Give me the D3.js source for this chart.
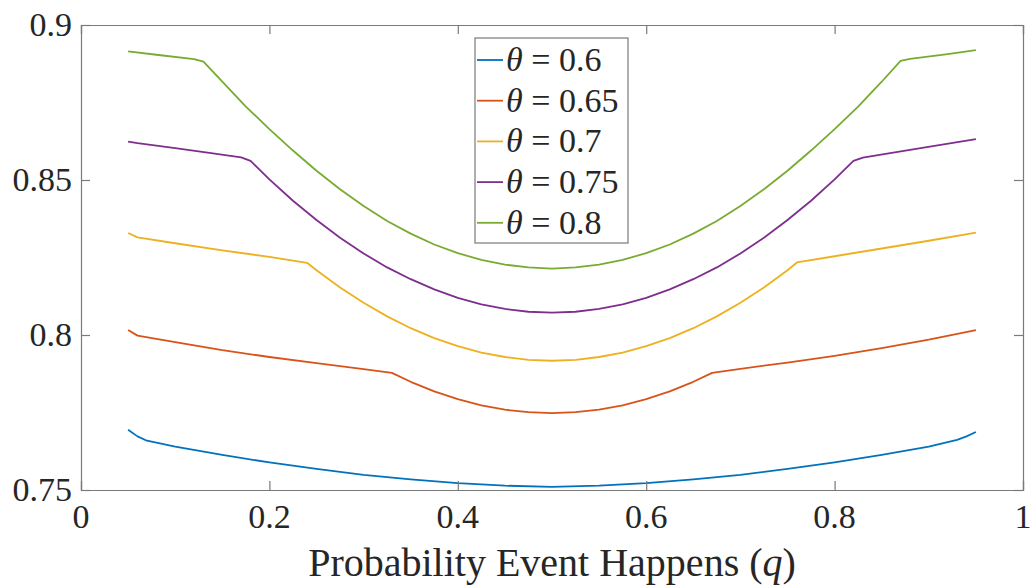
<!DOCTYPE html>
<html>
<head>
<meta charset="utf-8">
<script src="https://cdn.jsdelivr.net/npm/d3@7/dist/d3.min.js"></script>
</head>
<body style="margin:0">
<svg id="chart" width="1034" height="587"></svg>
<script>
// ---- data ----
const seriesLabels = ["0.6", "0.65", "0.7", "0.75", "0.8"];
const seriesColors = ["#0072BD", "#D95319", "#EDB120", "#7E2F8E", "#77AC30"];

const qBlue = [0.05,0.06,0.07,0.10,0.15,0.20,0.25,0.30,0.35,0.40,0.45,0.50,0.55,0.60,0.65,0.70,0.75,0.80,0.85,0.90,0.93,0.94,0.95];
const vBlue = [0.7694,0.7673,0.7659,0.7640,0.7613,0.7589,0.7568,0.7549,0.7534,0.7522,0.7514,0.7510,0.7514,0.7522,0.7534,0.7549,0.7568,0.7589,0.7613,0.7640,0.7662,0.7673,0.7687];

const qOrange = [0.05,0.06,0.10,0.15,0.20,0.25,0.30,0.33,0.35,0.375,0.40,0.425,0.45,0.475,0.50,0.525,0.55,0.575,0.60,0.625,0.65,0.67,0.70,0.75,0.80,0.85,0.90,0.95];
const vOrange = [0.8016,0.7998,0.7977,0.7951,0.7929,0.7909,0.7890,0.7878,0.7849,0.7818,0.7793,0.7773,0.7759,0.7751,0.7748,0.7751,0.7759,0.7773,0.7793,0.7818,0.7849,0.7878,0.7891,0.7911,0.7933,0.7958,0.7985,0.8016];

const qYellow = [0.05,0.06,0.10,0.15,0.20,0.24,0.25,0.275,0.30,0.325,0.35,0.375,0.40,0.425,0.45,0.475,0.50,0.525,0.55,0.575,0.60,0.625,0.65,0.675,0.70,0.725,0.75,0.76,0.80,0.85,0.90,0.95];
const vYellow = [0.8329,0.8315,0.8296,0.8273,0.8252,0.8233,0.8209,0.8153,0.8104,0.8060,0.8022,0.7990,0.7964,0.7943,0.7929,0.7920,0.7917,0.7920,0.7929,0.7943,0.7964,0.7990,0.8022,0.8060,0.8104,0.8153,0.8209,0.8234,0.8254,0.8279,0.8304,0.8330];

const qPurple = [0.05,0.06,0.10,0.14,0.17,0.18,0.20,0.225,0.25,0.275,0.30,0.325,0.35,0.375,0.40,0.425,0.45,0.475,0.50,0.525,0.55,0.575,0.60,0.625,0.65,0.675,0.70,0.725,0.75,0.775,0.80,0.82,0.83,0.88,0.95];
const vPurple = [0.8624,0.8619,0.8603,0.8586,0.8573,0.8562,0.8502,0.8433,0.8371,0.8314,0.8263,0.8218,0.8180,0.8147,0.8120,0.8099,0.8084,0.8075,0.8072,0.8075,0.8084,0.8099,0.8120,0.8147,0.8180,0.8218,0.8263,0.8314,0.8371,0.8433,0.8502,0.8562,0.8572,0.8597,0.8632];

const qGreen = [0.05,0.08,0.12,0.13,0.15,0.175,0.20,0.225,0.25,0.275,0.30,0.325,0.35,0.375,0.40,0.425,0.45,0.475,0.50,0.525,0.55,0.575,0.60,0.625,0.65,0.675,0.70,0.725,0.75,0.775,0.80,0.825,0.85,0.87,0.88,0.92,0.95];
const vGreen = [0.8915,0.8904,0.8890,0.8882,0.8817,0.8737,0.8664,0.8595,0.8530,0.8470,0.8416,0.8368,0.8327,0.8292,0.8264,0.8242,0.8227,0.8218,0.8214,0.8218,0.8227,0.8242,0.8264,0.8292,0.8327,0.8368,0.8416,0.8470,0.8530,0.8595,0.8664,0.8737,0.8817,0.8884,0.8891,0.8906,0.8919];

const xTicks = [0, 0.2, 0.4, 0.6, 0.8, 1];
const xTickLabels = ["0", "0.2", "0.4", "0.6", "0.8", "1"];
const yTicks = [0.75, 0.8, 0.85, 0.9];
const yTickLabels = ["0.75", "0.8", "0.85", "0.9"];
const xLabelText = "Probability Event Happens (";
const xLabelVar = "q";

// ---- layout ----
const FONT = '"Liberation Serif", "Times New Roman", serif';
function setFont(sel, size) {
  sel.attr("font-family", FONT).attr("font-size", size)
     .style("font-family", FONT, "important").style("font-size", size + "px", "important");
  return sel;
}
const L = 81, R = 1023, T = 25, B = 490;
const svg = d3.select("#chart");
const x = d3.scaleLinear().domain([0, 1]).range([L, R]);
const y = d3.scaleLinear().domain([0.75, 0.9]).range([B, T]);

const allSeries = [
  {q: qBlue, v: vBlue},
  {q: qOrange, v: vOrange},
  {q: qYellow, v: vYellow},
  {q: qPurple, v: vPurple},
  {q: qGreen, v: vGreen}
];

const axisColor = "#7a7a7a";
const textColor = "#262626";
const tickLen = 9;

// lines
const line = d3.line().x(d => x(d[0])).y(d => y(d[1])).curve(d3.curveLinear);
allSeries.forEach((s, i) => {
  const pts = s.q.map((q, j) => [q, s.v[j]]);
  svg.append("path").attr("d", line(pts)).attr("fill", "none")
    .attr("stroke", seriesColors[i]).attr("stroke-width", 1.8)
    .attr("stroke-linejoin", "round");
});

// axes (lines + inward ticks)
const gxb = svg.append("g").attr("transform", `translate(0,${B})`)
  .call(d3.axisBottom(x).tickValues(xTicks).tickSize(-tickLen).tickFormat(""));
const gxt = svg.append("g").attr("transform", `translate(0,${T})`)
  .call(d3.axisTop(x).tickValues(xTicks).tickSize(-tickLen).tickFormat(""));
const gyl = svg.append("g").attr("transform", `translate(${L},0)`)
  .call(d3.axisLeft(y).tickValues(yTicks).tickSize(-tickLen).tickFormat(""));
const gyr = svg.append("g").attr("transform", `translate(${R},0)`)
  .call(d3.axisRight(y).tickValues(yTicks).tickSize(-tickLen).tickFormat(""));
[gxb, gxt, gyl, gyr].forEach(g => {
  g.select(".domain").attr("stroke", axisColor).attr("stroke-width", 1.2);
  g.selectAll(".tick line").attr("stroke", axisColor).attr("stroke-width", 1.2);
  g.selectAll(".tick text").remove();
});

// tick labels
setFont(svg.selectAll("text.xt").data(xTicks).enter().append("text").attr("class", "xt")
  .attr("x", d => x(d)).attr("y", 528).attr("text-anchor", "middle").attr("fill", textColor)
  .text((d, i) => xTickLabels[i]), 34);
setFont(svg.selectAll("text.yt").data(yTicks).enter().append("text").attr("class", "yt")
  .attr("x", 72).attr("y", d => y(d) + 11).attr("text-anchor", "end").attr("fill", textColor)
  .text((d, i) => yTickLabels[i]), 34);

// x label
const xl = setFont(svg.append("text").attr("x", (L + R) / 2).attr("y", 576)
  .attr("text-anchor", "middle").attr("fill", textColor), 40);
xl.append("tspan").text(xLabelText);
xl.append("tspan").attr("font-style", "italic").text(xLabelVar);
xl.append("tspan").text(")");

// legend
const lgX = 475, lgY = 38, lgW = 153, lgH = 205, rowH = 40.7;
svg.append("rect").attr("x", lgX).attr("y", lgY).attr("width", lgW).attr("height", lgH)
  .attr("fill", "#fff").attr("stroke", axisColor).attr("stroke-width", 1.2);
seriesLabels.forEach((lab, i) => {
  const cy = lgY + 22 + i * rowH;
  svg.append("line").attr("x1", lgX + 2).attr("x2", lgX + 28).attr("y1", cy).attr("y2", cy)
    .attr("stroke", seriesColors[i]).attr("stroke-width", 1.8);
  const t = setFont(svg.append("text").attr("x", lgX + 31).attr("y", cy + 11).attr("fill", textColor), 34);
  t.append("tspan").attr("font-style", "italic").text("θ");
  t.append("tspan").text(" = " + lab);
});
</script>
</body>
</html>
